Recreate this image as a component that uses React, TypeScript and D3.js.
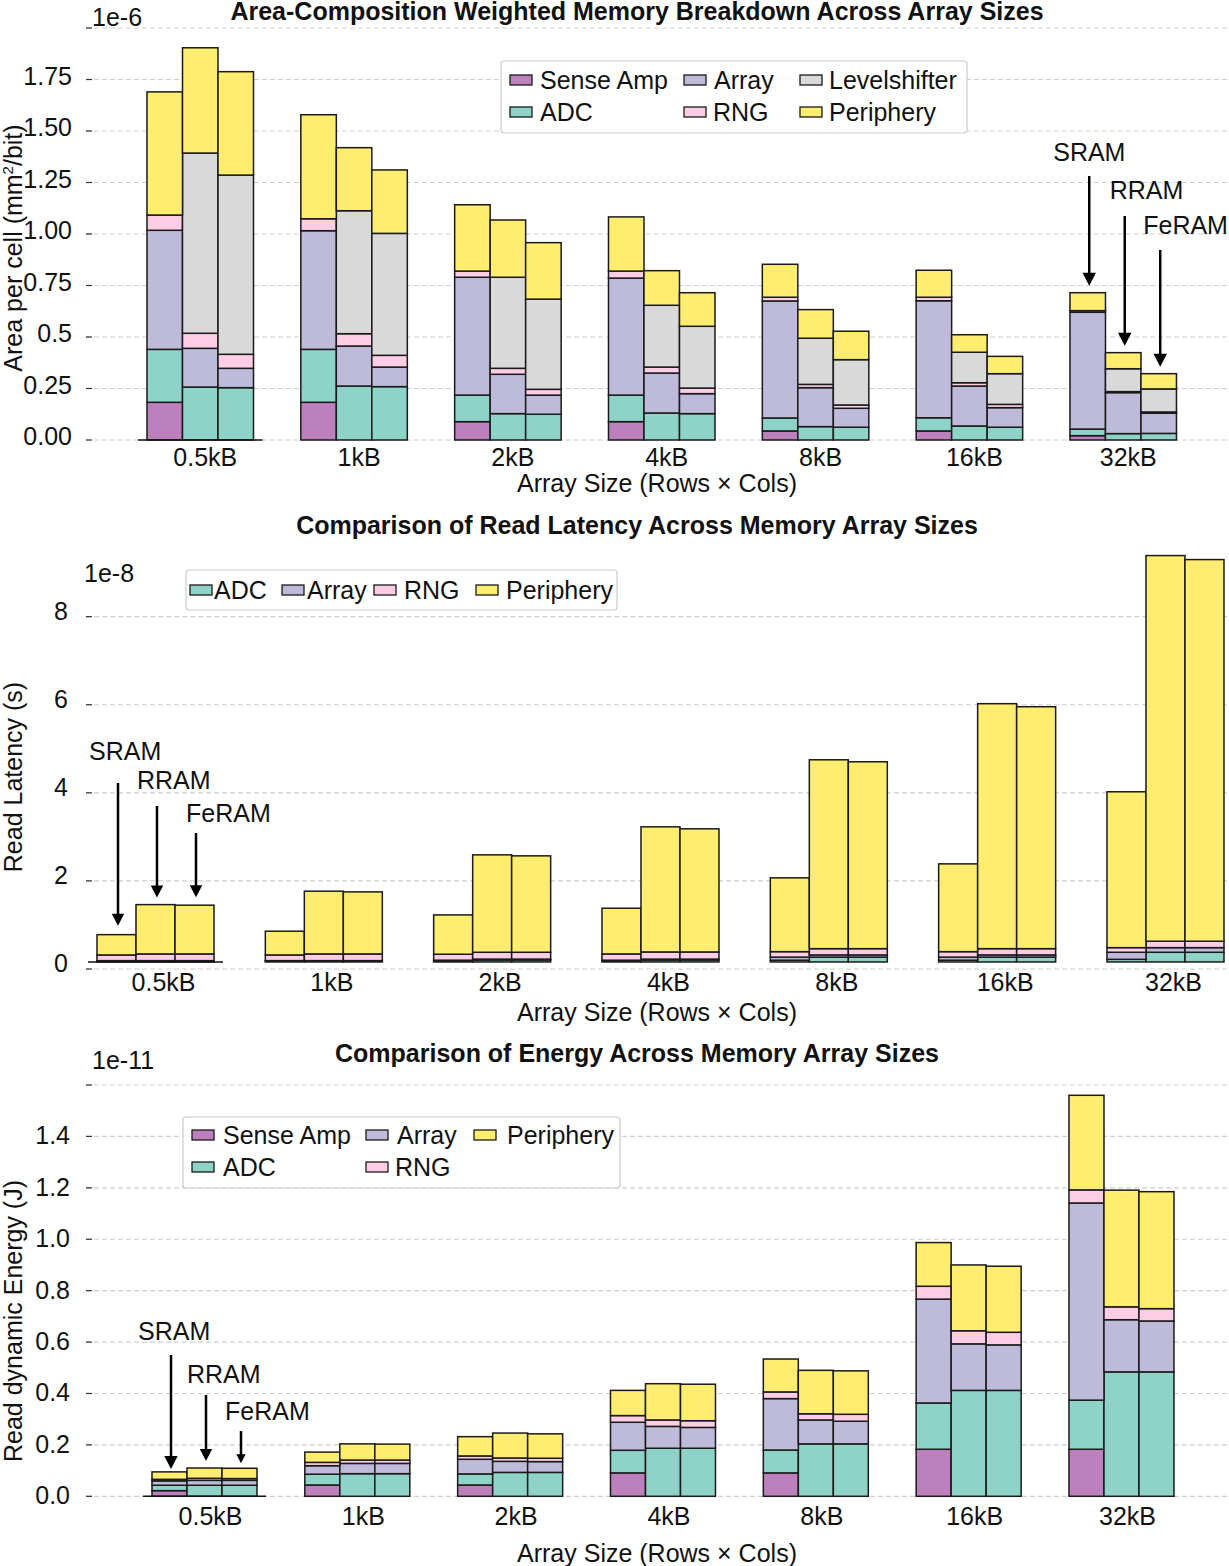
import React from "react";
import * as d3 from "d3";

const FONT = '"Liberation Sans", Arial, Helvetica, sans-serif';
const FS = 25;

const sizes = ["0.5kB", "1kB", "2kB", "4kB", "8kB", "16kB", "32kB"];
const memories = ["SRAM", "RRAM", "FeRAM"];

const componentColors: Record<string, string> = {
  "Sense Amp": "#bc80bd",
  ADC: "#8dd3c7",
  Array: "#bebada",
  RNG: "#fccde5",
  Levelshifter: "#d9d9d9",
  Periphery: "#ffed6f",
};

// ---- Area per cell (x 1e-6 mm^2/bit) ----
const areaSenseAmp = {
  SRAM: [0.183, 0.183, 0.089, 0.089, 0.044, 0.044, 0.021],
  RRAM: [0, 0, 0, 0, 0, 0, 0],
  FeRAM: [0, 0, 0, 0, 0, 0, 0],
};
const areaADC = {
  SRAM: [0.257, 0.257, 0.129, 0.129, 0.063, 0.064, 0.032],
  RRAM: [0.257, 0.262, 0.128, 0.131, 0.065, 0.068, 0.031],
  FeRAM: [0.254, 0.259, 0.125, 0.128, 0.062, 0.062, 0.032],
};
const areaArray = {
  SRAM: [0.578, 0.576, 0.572, 0.568, 0.568, 0.568, 0.567],
  RRAM: [0.188, 0.194, 0.191, 0.194, 0.189, 0.194, 0.199],
  FeRAM: [0.094, 0.095, 0.093, 0.097, 0.092, 0.095, 0.098],
};
const areaRNG = {
  SRAM: [0.074, 0.058, 0.03, 0.034, 0.018, 0.017, 0.008],
  RRAM: [0.073, 0.06, 0.029, 0.029, 0.016, 0.016, 0.005],
  FeRAM: [0.068, 0.057, 0.028, 0.027, 0.016, 0.016, 0.006],
};
const areaLevelshifter = {
  SRAM: [0, 0, 0, 0, 0, 0, 0],
  RRAM: [0.875, 0.597, 0.442, 0.3, 0.224, 0.148, 0.111],
  FeRAM: [0.87, 0.592, 0.438, 0.3, 0.22, 0.149, 0.112],
};
const areaPeriphery = {
  SRAM: [0.598, 0.505, 0.322, 0.263, 0.16, 0.131, 0.087],
  RRAM: [0.511, 0.306, 0.278, 0.168, 0.139, 0.085, 0.078],
  FeRAM: [0.502, 0.308, 0.274, 0.163, 0.138, 0.084, 0.074],
};

// ---- Read latency (x 1e-8 s) ----
// Sense-amp latency is part of every stack's base but is not drawn.
const latSenseAmp = {
  SRAM: [0.16, 0.16, 0.16, 0.16, 0.16, 0.16, 0.16],
  RRAM: [0.16, 0.16, 0.16, 0.16, 0.16, 0.16, 0.16],
  FeRAM: [0.16, 0.16, 0.16, 0.16, 0.16, 0.16, 0.16],
};
const latADC = {
  SRAM: [0.02, 0.02, 0.02, 0.02, 0.04, 0.04, 0.06],
  RRAM: [0.02, 0.02, 0.045, 0.045, 0.11, 0.11, 0.22],
  FeRAM: [0.02, 0.02, 0.045, 0.045, 0.11, 0.11, 0.22],
};
const latArray = {
  SRAM: [0.01, 0.01, 0.02, 0.02, 0.07, 0.07, 0.16],
  RRAM: [0.01, 0.01, 0.02, 0.02, 0.05, 0.05, 0.105],
  FeRAM: [0.01, 0.01, 0.02, 0.02, 0.05, 0.05, 0.105],
};
const latRNG = {
  SRAM: [0.129, 0.129, 0.135, 0.142, 0.124, 0.124, 0.105],
  RRAM: [0.152, 0.152, 0.155, 0.162, 0.142, 0.142, 0.145],
  FeRAM: [0.152, 0.152, 0.155, 0.162, 0.142, 0.142, 0.145],
};
const latPeriphery = {
  SRAM: [0.461, 0.539, 0.893, 1.038, 1.676, 1.993, 3.539],
  RRAM: [1.12, 1.425, 2.212, 2.841, 4.288, 5.562, 8.757],
  FeRAM: [1.107, 1.409, 2.189, 2.796, 4.243, 5.493, 8.666],
};

// ---- Read dynamic energy (x 1e-11 J) ----
const enSenseAmp = {
  SRAM: [0.022, 0.044, 0.044, 0.091, 0.091, 0.183, 0.183],
  RRAM: [0, 0, 0, 0, 0, 0, 0],
  FeRAM: [0, 0, 0, 0, 0, 0, 0],
};
const enADC = {
  SRAM: [0.021, 0.042, 0.043, 0.088, 0.089, 0.18, 0.191],
  RRAM: [0.043, 0.088, 0.093, 0.187, 0.204, 0.412, 0.484],
  FeRAM: [0.043, 0.088, 0.093, 0.187, 0.204, 0.412, 0.484],
};
const enArray = {
  SRAM: [0.017, 0.033, 0.057, 0.109, 0.2, 0.404, 0.767],
  RRAM: [0.019, 0.04, 0.043, 0.085, 0.093, 0.181, 0.203],
  FeRAM: [0.019, 0.04, 0.042, 0.081, 0.088, 0.177, 0.198],
};
const enRNG = {
  SRAM: [0.006, 0.013, 0.013, 0.026, 0.026, 0.05, 0.051],
  RRAM: [0.008, 0.013, 0.013, 0.025, 0.024, 0.051, 0.05],
  FeRAM: [0.007, 0.013, 0.013, 0.026, 0.027, 0.049, 0.048],
};
const enPeriphery = {
  SRAM: [0.029, 0.04, 0.075, 0.098, 0.128, 0.17, 0.368],
  RRAM: [0.04, 0.063, 0.097, 0.141, 0.169, 0.256, 0.454],
  FeRAM: [0.04, 0.062, 0.095, 0.142, 0.169, 0.257, 0.455],
};

const areaTickLabels = ["0.00", "0.25", "0.5", "0.75", "1.00", "1.25", "1.50", "1.75"];
const latencyTickLabels = ["0", "2", "4", "6", "8"];
const energyTickLabels = ["0.0", "0.2", "0.4", "0.6", "0.8", "1.0", "1.2", "1.4"];

type Series = Record<string, number[]>;

interface Annotation {
  mem: number;
  group: number;
  textDx: number;
  textY: number;
  lineTop: number;
  gap: number;
  head: number;
}

interface PanelSpec {
  title: string;
  titleY: number;
  keys: string[];
  hidden: string[];
  data: Record<string, Series>;
  x0: number;
  step: number;
  barW: number;
  y: d3.ScaleLinear<number, number>;
  gridValues: number[];
  labelValues: number[];
  tickLabels: string[];
  tickLabelX: number;
  tickLabelDy: number;
  offsetText: string;
  offsetX: number;
  offsetY: number;
  xTickY: number;
  xTickDx: number;
  xAxisLabelY: number;
  yLabel: React.ReactNode;
  yLabelCenter: number;
  legend: {
    box: [number, number, number, number];
    items: { key: string; sx: number; tx: number; cy: number }[];
  };
  annotations: Annotation[];
}

function Panel({ spec }: { spec: PanelSpec }) {
  const { keys, hidden, data, x0, step, barW, y } = spec;
  const xg = d3
    .scaleLinear()
    .domain([0, sizes.length - 1])
    .range([x0, x0 + step * (sizes.length - 1)]);

  const rows: any[] = [];
  sizes.forEach((_, i) =>
    memories.forEach((m, j) => {
      const r: any = { i, j };
      keys.forEach((k) => (r[k] = data[k][m][i]));
      rows.push(r);
    })
  );
  const layers = d3.stack<any>().keys(keys)(rows);
  const topLayer = layers[layers.length - 1];

  const firstBase = hidden.reduce((s, k) => s + data[k][memories[0]][0], 0);
  const gridLeft = 86;
  const gridRight = 1229;

  return (
    <g>
      <text
        x={637}
        y={spec.titleY}
        textAnchor="middle"
        fontFamily={FONT}
        fontWeight="bold"
        fontSize={FS}
        fill="#111"
      >
        {spec.title}
      </text>

      {/* grid and y ticks */}
      {spec.gridValues.map((v) => (
        <g key={"g" + v}>
          <line
            x1={gridLeft}
            x2={gridRight}
            y1={y(v)}
            y2={y(v)}
            stroke="#cfcfcf"
            strokeWidth={1.2}
            strokeDasharray="5,3"
          />
          <line x1={86} x2={92} y1={y(v)} y2={y(v)} stroke="#333" strokeWidth={1.2} />
        </g>
      ))}
      {spec.labelValues.map((v, k) => (
        <text
          key={"t" + v}
          x={spec.tickLabelX}
          y={y(v) + spec.tickLabelDy}
          textAnchor="end"
          fontFamily={FONT}
          fontSize={FS}
          fill="#111"
        >
          {spec.tickLabels[k]}
        </text>
      ))}
      <text x={spec.offsetX} y={spec.offsetY} fontFamily={FONT} fontSize={FS} fill="#111">
        {spec.offsetText}
      </text>

      {/* stacked bars */}
      {layers
        .filter((l) => !hidden.includes(l.key))
        .map((l) =>
          l.map((d, idx) => {
            const h = y(d[0]) - y(d[1]);
            if (!(d[1] - d[0] > 0)) return null;
            const r = d.data;
            return (
              <rect
                key={l.key + idx}
                x={xg(r.i) + r.j * barW}
                y={y(d[1])}
                width={barW}
                height={h}
                fill={componentColors[l.key]}
                stroke="#1a1a1a"
                strokeWidth={1.5}
              />
            );
          })
        )}

      {/* base line under the first group */}
      <line
        x1={xg(0) - 9}
        x2={xg(0) + 3 * barW + 9}
        y1={y(firstBase)}
        y2={y(firstBase)}
        stroke="#111"
        strokeWidth={1.5}
      />

      {/* x tick labels */}
      {sizes.map((s, i) => (
        <text
          key={s}
          x={xg(i) + 1.5 * barW + spec.xTickDx}
          y={spec.xTickY}
          textAnchor="middle"
          fontFamily={FONT}
          fontSize={FS}
          fill="#111"
        >
          {s}
        </text>
      ))}
      <text
        x={657}
        y={spec.xAxisLabelY}
        textAnchor="middle"
        fontFamily={FONT}
        fontSize={FS}
        fill="#111"
      >
        Array Size (Rows × Cols)
      </text>
      <text
        transform={`translate(22,${spec.yLabelCenter}) rotate(-90)`}
        textAnchor="middle"
        fontFamily={FONT}
        fontSize={FS}
        fill="#111"
      >
        {spec.yLabel}
      </text>

      {/* legend */}
      <rect
        x={spec.legend.box[0]}
        y={spec.legend.box[1]}
        width={spec.legend.box[2]}
        height={spec.legend.box[3]}
        rx={3}
        fill="white"
        fillOpacity={0.85}
        stroke="#cccccc"
        strokeWidth={1.2}
      />
      {spec.legend.items.map((it) => (
        <g key={"lg" + it.key}>
          <rect
            x={it.sx}
            y={it.cy - 5}
            width={22}
            height={10}
            fill={componentColors[it.key]}
            stroke="#1a1a1a"
            strokeWidth={1.3}
          />
          <text x={it.tx} y={it.cy + 8.5} fontFamily={FONT} fontSize={FS} fill="#111">
            {it.key}
          </text>
        </g>
      ))}

      {/* memory-type arrows */}
      {spec.annotations.map((a) => {
        const rowIdx = a.group * memories.length + a.mem;
        const top = topLayer[rowIdx][1];
        const ax = xg(a.group) + (a.mem + 0.5) * barW + 1.5;
        const tip = y(top) - a.gap;
        const hw = a.head * 0.52;
        return (
          <g key={"an" + a.mem}>
            <line
              x1={ax}
              x2={ax}
              y1={a.lineTop}
              y2={tip - a.head + 1}
              stroke="#000"
              strokeWidth={2.5}
            />
            <path
              d={`M${ax - hw},${tip - a.head} L${ax + hw},${tip - a.head} L${ax},${tip} Z`}
              fill="#000"
            />
            <text x={ax + a.textDx} y={a.textY} fontFamily={FONT} fontSize={FS} fill="#111">
              {memories[a.mem]}
            </text>
          </g>
        );
      })}
    </g>
  );
}

const areaSpec: PanelSpec = {
  title: "Area-Composition Weighted Memory Breakdown Across Array Sizes",
  titleY: 20,
  keys: ["Sense Amp", "ADC", "Array", "RNG", "Levelshifter", "Periphery"],
  hidden: [],
  data: {
    "Sense Amp": areaSenseAmp,
    ADC: areaADC,
    Array: areaArray,
    RNG: areaRNG,
    Levelshifter: areaLevelshifter,
    Periphery: areaPeriphery,
  },
  x0: 147,
  step: 153.83,
  barW: 35.5,
  y: d3.scaleLinear().domain([0, 2]).range([440, 28]),
  gridValues: d3.range(0, 2.001, 0.25),
  labelValues: d3.range(0, 1.76, 0.25),
  tickLabels: areaTickLabels,
  tickLabelX: 72,
  tickLabelDy: 5,
  offsetText: "1e-6",
  offsetX: 92,
  offsetY: 26,
  xTickY: 466,
  xTickDx: 5,
  xAxisLabelY: 492,
  yLabel: (
    <>
      Area per cell (mm
      <tspan fontSize={15} dy={-9}>
        2
      </tspan>
      <tspan dy={9}>/bit)</tspan>
    </>
  ),
  yLabelCenter: 248,
  legend: {
    box: [501, 61, 466, 72],
    items: [
      { key: "Sense Amp", sx: 510, tx: 540, cy: 80 },
      { key: "ADC", sx: 510, tx: 540, cy: 112 },
      { key: "Array", sx: 684, tx: 714, cy: 80 },
      { key: "RNG", sx: 684, tx: 713, cy: 112 },
      { key: "Levelshifter", sx: 800, tx: 829, cy: 80 },
      { key: "Periphery", sx: 800, tx: 829, cy: 112 },
    ],
  },
  annotations: [
    { mem: 0, group: 6, textDx: -36, textY: 161, lineTop: 176, gap: 7, head: 13 },
    { mem: 1, group: 6, textDx: -15, textY: 199, lineTop: 216, gap: 7, head: 13 },
    { mem: 2, group: 6, textDx: -17, textY: 234, lineTop: 250, gap: 7, head: 13 },
  ],
};

const latencySpec: PanelSpec = {
  title: "Comparison of Read Latency Across Memory Array Sizes",
  titleY: 534,
  keys: ["Sense Amp", "ADC", "Array", "RNG", "Periphery"],
  hidden: ["Sense Amp"],
  data: {
    "Sense Amp": latSenseAmp,
    ADC: latADC,
    Array: latArray,
    RNG: latRNG,
    Periphery: latPeriphery,
  },
  x0: 97,
  step: 168.33,
  barW: 39,
  y: d3.scaleLinear().domain([0, 9.4]).range([969, 555]),
  gridValues: [0, 2, 4, 6, 8],
  labelValues: [0, 2, 4, 6, 8],
  tickLabels: latencyTickLabels,
  tickLabelX: 68,
  tickLabelDy: 3,
  offsetText: "1e-8",
  offsetX: 84,
  offsetY: 582,
  xTickY: 991,
  xTickDx: 8,
  xAxisLabelY: 1021,
  yLabel: "Read Latency (s)",
  yLabelCenter: 777,
  legend: {
    box: [186, 570, 431, 40],
    items: [
      { key: "ADC", sx: 190, tx: 214, cy: 590 },
      { key: "Array", sx: 282, tx: 307, cy: 590 },
      { key: "RNG", sx: 374, tx: 404, cy: 590 },
      { key: "Periphery", sx: 476, tx: 506, cy: 590 },
    ],
  },
  annotations: [
    { mem: 0, group: 0, textDx: -29, textY: 760, lineTop: 783, gap: 9, head: 12 },
    { mem: 1, group: 0, textDx: -20, textY: 789, lineTop: 806, gap: 7, head: 12 },
    { mem: 2, group: 0, textDx: -10, textY: 822, lineTop: 833, gap: 8, head: 12 },
  ],
};

const energySpec: PanelSpec = {
  title: "Comparison of Energy Across Memory Array Sizes",
  titleY: 1062,
  keys: ["Sense Amp", "ADC", "Array", "RNG", "Periphery"],
  hidden: [],
  data: {
    "Sense Amp": enSenseAmp,
    ADC: enADC,
    Array: enArray,
    RNG: enRNG,
    Periphery: enPeriphery,
  },
  x0: 152,
  step: 152.83,
  barW: 35,
  y: d3.scaleLinear().domain([0, 1.6]).range([1496.3, 1085]),
  gridValues: d3.range(0, 1.601, 0.2),
  labelValues: d3.range(0, 1.41, 0.2),
  tickLabels: energyTickLabels,
  tickLabelX: 70,
  tickLabelDy: 8,
  offsetText: "1e-11",
  offsetX: 92,
  offsetY: 1069,
  xTickY: 1525,
  xTickDx: 6,
  xAxisLabelY: 1562,
  yLabel: "Read dynamic Energy (J)",
  yLabelCenter: 1321,
  legend: {
    box: [183, 1117, 437, 71],
    items: [
      { key: "Sense Amp", sx: 192, tx: 223, cy: 1135 },
      { key: "ADC", sx: 192, tx: 223, cy: 1167 },
      { key: "Array", sx: 366, tx: 397, cy: 1135 },
      { key: "RNG", sx: 366, tx: 395, cy: 1167 },
      { key: "Periphery", sx: 474, tx: 507, cy: 1135 },
    ],
  },
  annotations: [
    { mem: 0, group: 0, textDx: -33, textY: 1340, lineTop: 1355, gap: 3, head: 13 },
    { mem: 1, group: 0, textDx: -19, textY: 1383, lineTop: 1395, gap: 7, head: 12 },
    { mem: 2, group: 0, textDx: -16, textY: 1420, lineTop: 1431, gap: 5, head: 9 },
  ],
};

export default function App() {
  return (
    <svg
      width={1229}
      height={1566}
      viewBox="0 0 1229 1566"
      style={{ position: "absolute", left: 0, top: 0, background: "white" }}
    >
      <rect x={0} y={0} width={1229} height={1566} fill="white" />
      <Panel spec={areaSpec} />
      <Panel spec={latencySpec} />
      <Panel spec={energySpec} />
    </svg>
  );
}
